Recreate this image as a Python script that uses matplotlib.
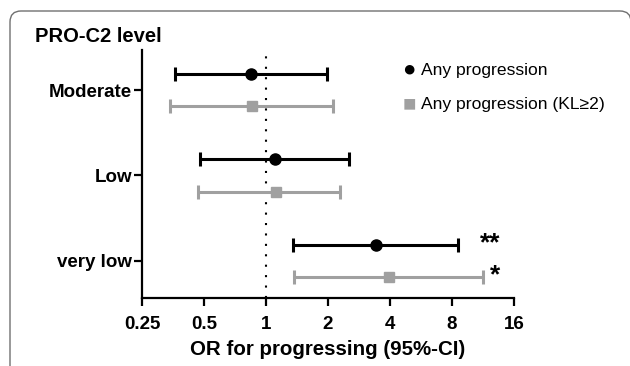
import matplotlib.pyplot as plt
from matplotlib.patches import FancyBboxPatch
import numpy as np

plt.rcParams['font.family'] = ['Liberation Sans', 'DejaVu Sans']

levels = ["very low", "Low", "Moderate"]

# Any progression
any_or = [3.42, 1.10, 0.85]
any_lo = [1.35, 0.48, 0.36]
any_hi = [8.56, 2.53, 1.98]
any_sig = ["**", "", ""]

# Any progression (KL>=2)
kl_or = [3.95, 1.12, 0.855]
kl_lo = [1.37, 0.47, 0.34]
kl_hi = [11.3, 2.29, 2.11]
kl_sig = ["*", "", ""]

xticks = [0.25, 0.5, 1, 2, 4, 8, 16]
xticklabels = ["0.25", "0.5", "1", "2", "4", "8", "16"]

fig = plt.figure(figsize=(6.3, 3.66), dpi=100)
ax = fig.add_axes([142 / 630, 1 - 298 / 366, 372 / 630, 248 / 366])

# rounded frame around the panel (inches, so the corners stay round)
frame = FancyBboxPatch((0.10, -0.5), 6.21, 3.55 + 0.5,
                       boxstyle="round,pad=0,rounding_size=0.11",
                       transform=fig.dpi_scale_trans, fill=False,
                       edgecolor="#707070", linewidth=1.0, clip_on=False)
fig.patches.append(frame)

y = np.arange(len(levels))
off = 0.19

ax.axvline(1, color="black", linestyle=(0, (1, 4)), linewidth=1.5, zorder=1)

ax.errorbar(any_or, y + off,
            xerr=[np.array(any_or) - np.array(any_lo), np.array(any_hi) - np.array(any_or)],
            fmt="o", color="black", ecolor="black", markersize=8,
            elinewidth=2.2, capsize=5, capthick=2.2, zorder=3)
ax.errorbar(kl_or, y - off,
            xerr=[np.array(kl_or) - np.array(kl_lo), np.array(kl_hi) - np.array(kl_or)],
            fmt="s", color="#a0a0a0", ecolor="#a0a0a0", markersize=7.5,
            elinewidth=2.2, capsize=5, capthick=2.2, zorder=3)

for i in range(len(levels)):
    if any_sig[i]:
        ax.text(any_hi[i] * 1.28, y[i] + off + 0.02, any_sig[i], fontsize=19,
                fontweight="bold", ha="left", va="center")
    if kl_sig[i]:
        ax.text(kl_hi[i] * 1.08, y[i] - off + 0.02, kl_sig[i], fontsize=19,
                fontweight="bold", ha="left", va="center")

ax.set_xscale("log", base=2)
ax.set_xlim(0.25, 16)
ax.set_ylim(-0.433, 2.468)
ax.set_xticks(xticks)
ax.set_xticklabels(xticklabels)
ax.minorticks_off()
ax.set_yticks(y)
ax.set_yticklabels(levels)

for s in ["top", "right"]:
    ax.spines[s].set_visible(False)
for s in ["left", "bottom"]:
    ax.spines[s].set_linewidth(1.6)
ax.tick_params(axis="both", length=6, width=1.6, labelsize=13.5)
ax.tick_params(axis="x", pad=7)
ax.tick_params(axis="y", pad=1)
for lab in ax.get_xticklabels() + ax.get_yticklabels():
    lab.set_fontweight("bold")

ax.set_xlabel("OR for progressing (95%-CI)", fontsize=14.8, fontweight="bold", labelpad=5)
fig.text(35 / 630, 1 - 37 / 366, "PRO-C2 level", fontsize=14.5, fontweight="bold",
         ha="left", va="center")

# legend
fig.text(409 / 630, 1 - 70 / 366, "\u25cf", fontsize=16, ha="center", va="center")
fig.text(421 / 630, 1 - 70 / 366, "Any progression", fontsize=12.6, ha="left", va="center")
fig.text(409 / 630, 1 - 105 / 366, "\u25a0", fontsize=16, color="#a0a0a0", ha="center", va="center")
fig.text(421 / 630, 1 - 105 / 366, "Any progression (KL\u22652)", fontsize=12.6, ha="left", va="center")

fig.savefig("out.png", dpi=100)
